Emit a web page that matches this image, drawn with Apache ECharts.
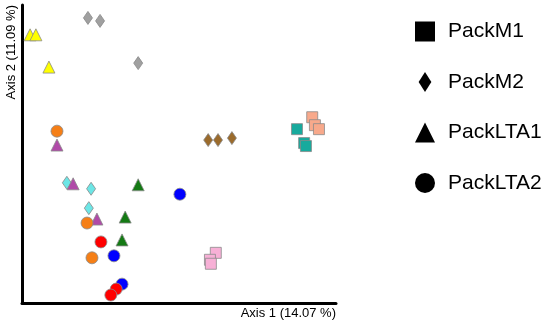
<!DOCTYPE html>
<html>
<head>
<meta charset="utf-8">
<script src="https://cdn.jsdelivr.net/npm/echarts@6/dist/echarts.min.js"></script>
<style>
  html, body { margin: 0; padding: 0; background: #fff; }
  #chart { width: 550px; height: 324px; }
</style>
</head>
<body>
<div id="chart"></div>
<script>
// PCoA coordinates [axis1, axis2], grouped by pack and colour
const m1Teal = [[0.313, 0.050], [0.329, 0.022], [0.333, 0.016]];
const m1Salmon = [[0.347, 0.074], [0.353, 0.058], [0.362, 0.050]];
const m1Pink = [[0.132, -0.199], [0.119, -0.213], [0.121, -0.221]];

const m2Gray = [[-0.153, 0.274], [-0.126, 0.268], [-0.041, 0.183]];
const m2Brown = [[0.115, 0.028], [0.137, 0.028], [0.168, 0.032]];
const m2Cyan = [[-0.200, -0.058], [-0.146, -0.070], [-0.151, -0.109]];

const lta1Yellow = [[-0.282, 0.240], [-0.269, 0.240], [-0.240, 0.175]];
const lta1Magenta = [[-0.222, 0.018], [-0.186, -0.060], [-0.133, -0.131]];
const lta1Green = [[-0.041, -0.062], [-0.070, -0.127], [-0.077, -0.173]];

const lta2Orange = [[-0.222, 0.046], [-0.155, -0.139], [-0.144, -0.209]];
const lta2Blue = [[0.052, -0.081], [-0.095, -0.205], [-0.077, -0.262]];
const lta2Red = [[-0.124, -0.177], [-0.090, -0.272], [-0.102, -0.284]];

const packNames = ['PackM1', 'PackM2', 'PackLTA1', 'PackLTA2'];
const axisNames = ['Axis 1 (14.07 %)', 'Axis 2 (11.09 %)'];

const diamondPath = 'path://M7,0 L14,11 L7,22 L0,11 Z';
const shapes = {
  PackM1: { symbol: 'rect', size: 11 },
  PackM2: { symbol: diamondPath, size: [9, 13] },
  PackLTA1: { symbol: 'triangle', size: 12 },
  PackLTA2: { symbol: 'circle', size: 12 }
};

const groups = [
  ['PackM1', m1Teal, '#17aa9d'],
  ['PackM1', m1Salmon, '#f8a98b'],
  ['PackM1', m1Pink, '#f7b0d6'],
  ['PackM2', m2Gray, '#a0a0a0'],
  ['PackM2', m2Brown, '#9b6b2c'],
  ['PackM2', m2Cyan, '#6ce6e6'],
  ['PackLTA1', lta1Yellow, '#ffff00'],
  ['PackLTA1', lta1Magenta, '#b04aa8'],
  ['PackLTA1', lta1Green, '#147a14'],
  ['PackLTA2', lta2Orange, '#f57f17'],
  ['PackLTA2', lta2Blue, '#0000ff'],
  ['PackLTA2', lta2Red, '#ff0000']
];

const font = "'Liberation Sans', Arial, sans-serif";

// coloured points
const series = groups.map(([pack, data, color]) => ({
  type: 'scatter',
  name: pack + '-pts',
  data: data,
  symbol: shapes[pack].symbol,
  symbolSize: shapes[pack].size,
  itemStyle: { color: color, borderColor: '#8a8a8a', borderWidth: 0.8, opacity: 1 },
  emphasis: { disabled: true }
}));

// empty black series, only for the legend
packNames.forEach(name => {
  series.push({
    type: 'scatter',
    name: name,
    data: [],
    symbol: shapes[name].symbol,
    itemStyle: { color: '#000', borderWidth: 0 }
  });
});

const chart = echarts.init(document.getElementById('chart'));
chart.setOption({
  animation: false,
  grid: { left: 22, right: 214, top: 5, bottom: 21 },
  legend: {
    orient: 'vertical',
    left: 410,
    top: 16,
    itemWidth: 20,
    itemHeight: 20,
    itemGap: 29.5,
    itemTextGap: 18,
    selectedMode: false,
    itemStyle: { color: '#000', borderWidth: 0, opacity: 1 },
    data: packNames.map(n => n === 'PackM2' ? { name: n, icon: diamondPath } : { name: n }),
    textStyle: { fontFamily: font, fontSize: 21, color: '#000', lineHeight: 20, padding: [0, 0, 0, 8] }
  },
  xAxis: {
    type: 'value',
    min: -0.3,
    max: 0.4,
    name: axisNames[0],
    nameLocation: 'end',
    nameGap: 0,
    nameTextStyle: { fontFamily: font, fontSize: 13, color: '#000', align: 'right', verticalAlign: 'top', padding: [4, 0, 0, 0] },
    axisLine: { onZero: false, lineStyle: { color: '#000', width: 3 } },
    axisTick: { show: false },
    axisLabel: { show: false },
    splitLine: { show: false }
  },
  yAxis: {
    type: 'value',
    min: -0.3,
    max: 0.3,
    name: axisNames[1],
    nameLocation: 'end',
    nameGap: 0,
    nameRotate: 90,
    nameTextStyle: { fontFamily: font, fontSize: 13, color: '#000', align: 'right', verticalAlign: 'bottom', padding: [0, 0, 4, 0] },
    axisLine: { onZero: false, lineStyle: { color: '#000', width: 3 } },
    axisTick: { show: false },
    axisLabel: { show: false },
    splitLine: { show: false }
  },
  series: series
});
</script>
</body>
</html>
